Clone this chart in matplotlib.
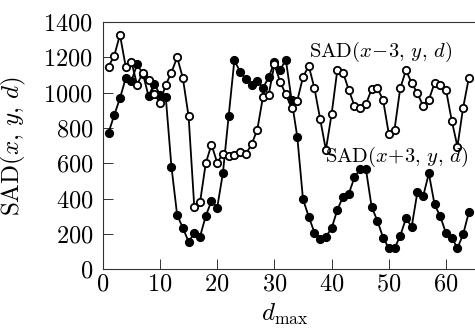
import numpy as np
import matplotlib
matplotlib.use("Agg")
import matplotlib.pyplot as plt

plt.rcParams['font.family'] = 'cmr10'
plt.rcParams['mathtext.fontset'] = 'cm'
plt.rcParams['axes.formatter.use_mathtext'] = True

# d_max values (1..64)
d_max = np.arange(1, 65)

# SAD(x-3, y, d)  -- open circles
sad_minus = [1148, 1209, 1328, 1148, 1176, 1044, 1114, 1073, 993, 944,
             1044, 1114, 1201, 1082, 866, 351, 379, 600, 706, 604,
             653, 642, 647, 663, 652, 707, 789, 975, 988, 1160,
             1062, 990, 915, 955, 1088, 1152, 1025, 851, 676, 878,
             1128, 1114, 1016, 925, 912, 935, 1020, 1025, 959, 767,
             791, 1025, 1127, 1055, 997, 925, 959, 1055, 1044, 1016,
             842, 695, 916, 1084]

# SAD(x+3, y, d)  -- filled circles
sad_plus = [773, 873, 968, 1081, 1066, 1160, 1108, 981, 1050, 988,
            978, 581, 307, 234, 156, 204, 185, 302, 387, 349,
            545, 866, 1183, 1119, 1079, 1043, 1068, 1025, 1088, 1171,
            1128, 1187, 960, 750, 397, 298, 208, 170, 185, 232,
            336, 411, 427, 521, 567, 567, 353, 275, 180, 119,
            119, 189, 289, 241, 437, 413, 543, 367, 300, 204,
            180, 119, 199, 323]

fig = plt.figure(figsize=(4.75, 3.34), dpi=100)
ax = fig.add_axes([0.2164, 0.1937, 0.7836, 0.7404])

ax.plot(d_max, sad_plus, '-o', color='black', lw=1.3, ms=5.6,
        mfc='black', mec='black', zorder=2)
ax.plot(d_max, sad_minus, '-o', color='black', lw=1.3, ms=5.3,
        mfc='white', mec='black', mew=1.3, zorder=3)

ax.set_xlim(0, 65.07)
ax.set_ylim(0, 1400)
ax.set_xticks([0, 10, 20, 30, 40, 50, 60])
ax.set_yticks(np.arange(0, 1401, 200))

for s in ['left', 'bottom', 'top']:
    ax.spines[s].set_linewidth(0.8)
    ax.spines[s].set_color('#333333')
ax.spines['right'].set_visible(False)

ax.tick_params(axis='both', direction='in', length=7, width=0.7,
               color='#333333', labelsize=17.5)
ax.tick_params(axis='y', pad=7)
ax.tick_params(axis='x', pad=3)

ax.set_ylabel(r'$\mathrm{SAD}(x,\,y,\,d)$', fontsize=18)
ax.yaxis.set_label_coords(-0.2, 0.5)
ax.set_xlabel(r'$d_{\max}$', fontsize=18)
ax.xaxis.set_label_coords(0.49, -0.13)

ax.text(48.6, 1230, r'$\mathrm{SAD}(x\!-\!3,\,y,\,d)$', fontsize=14.8,
        ha='center', va='center', zorder=4)
ax.text(51.3, 636, r'$\mathrm{SAD}(x\!+\!3,\,y,\,d)$', fontsize=14.8,
        ha='center', va='center', zorder=4)

fig.savefig('out.png', dpi=100)
